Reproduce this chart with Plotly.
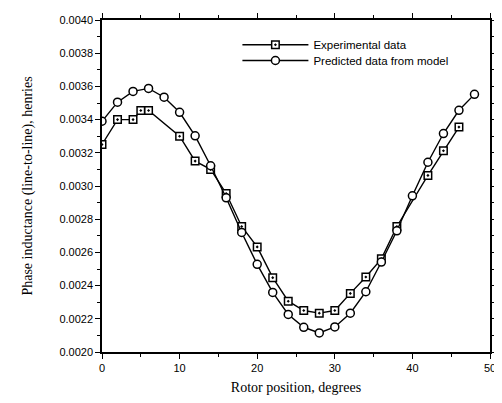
import plotly.graph_objects as go

# Experimental data (squares)
exp_x = [0, 2, 4, 5, 6, 10, 12, 14, 16, 18, 20, 22, 24, 26, 28, 30, 32, 34, 36, 38, 42, 44, 46]
exp_y = [0.00325, 0.00340, 0.00340, 0.003455, 0.003455, 0.00330, 0.00315, 0.00310, 0.002955,
         0.002756, 0.002633, 0.002448, 0.002306, 0.00225, 0.002234, 0.00225, 0.002353, 0.002452,
         0.002561, 0.002756, 0.003064, 0.003212, 0.003355]

# Predicted data from model (circles)
pred_x = [0, 2, 4, 6, 8, 10, 12, 14, 16, 18, 20, 22, 24, 26, 28, 30, 32, 34, 36, 38, 40, 42, 44, 46, 48]
pred_y = [0.00339, 0.003505, 0.00357, 0.003588, 0.003535, 0.003444, 0.003302, 0.003122, 0.002929,
          0.00272, 0.002528, 0.002359, 0.002226, 0.002149, 0.002115, 0.002151, 0.002234, 0.002363,
          0.002542, 0.00273, 0.002941, 0.003143, 0.003316, 0.003456, 0.003552]

x_tickvals = [0, 10, 20, 30, 40, 50]
y_tickvals = [0.0020, 0.0022, 0.0024, 0.0026, 0.0028, 0.0030, 0.0032, 0.0034, 0.0036, 0.0038, 0.0040]

fig = go.Figure()
fig.add_trace(go.Scatter(
    x=exp_x, y=exp_y, mode="lines+markers", name="Experimental data",
    line=dict(color="black", width=1.4),
    marker=dict(symbol="square-dot", size=7.5, color="white", line=dict(color="black", width=1.5)),
    legend="legend",
))
fig.add_trace(go.Scatter(
    x=pred_x, y=pred_y, mode="lines+markers", name="Predicted data from model",
    line=dict(color="black", width=1.4),
    marker=dict(symbol="circle", size=8, color="white", line=dict(color="black", width=1.5)),
    legend="legend2",
))

tickfont = dict(family="Liberation Sans, Arial, sans-serif", size=11, color="black")
titlefont = dict(family="Liberation Serif, Times New Roman, serif", size=14, color="black")
legfont = dict(family="Liberation Sans, Arial, sans-serif", size=11.5, color="black")

# page body has an 8px margin, so the figure is offset by 8px
fig.update_layout(
    width=494, height=395,
    margin=dict(l=94, r=5, t=9, b=51),
    paper_bgcolor="white", plot_bgcolor="white",
    showlegend=True,
    legend=dict(x=0.349, y=0.9255, xanchor="left", yanchor="middle", font=legfont,
                bgcolor="rgba(0,0,0,0)", itemwidth=66),
    legend2=dict(x=0.349, y=0.878, xanchor="left", yanchor="middle", font=legfont,
                 bgcolor="rgba(0,0,0,0)", itemwidth=66),
    xaxis=dict(range=[0, 50], tickvals=x_tickvals, ticktext=[str(v) for v in x_tickvals],
               showgrid=False, zeroline=False, showline=True, linecolor="black", linewidth=1.5,
               mirror="ticks", ticks="outside", ticklen=5, tickwidth=1.2, tickcolor="black",
               minor=dict(dtick=5, ticks="outside", ticklen=3, tickcolor="black", showgrid=False),
               tickfont=tickfont,
               title=dict(text="Rotor position, degrees", font=titlefont, standoff=9)),
    yaxis=dict(range=[0.0020, 0.0040], tickvals=y_tickvals, tickformat=".4f",
               showgrid=False, zeroline=False, showline=True, linecolor="black", linewidth=1.5,
               mirror="ticks", ticks="outside", ticklen=5, tickwidth=1.2, tickcolor="black",
               minor=dict(dtick=0.0001, ticks="outside", ticklen=3, tickcolor="black", showgrid=False),
               tickfont=tickfont,
               title=dict(text="Phase inductance (line-to-line), henries", font=titlefont, standoff=23)),
)

fig.write_html("out.html")
